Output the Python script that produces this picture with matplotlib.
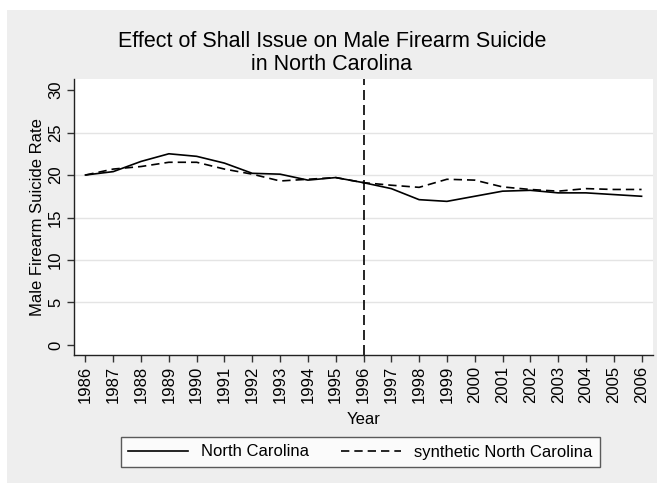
import matplotlib.pyplot as plt
from matplotlib.patches import Rectangle

plt.rcParams['font.family'] = ['Liberation Sans', 'DejaVu Sans']

years = list(range(1986, 2007))
north_carolina = [20.0, 20.4, 21.6, 22.5, 22.2, 21.4, 20.2, 20.1, 19.4, 19.7, 19.1,
                  18.4, 17.1, 16.9, 17.5, 18.1, 18.2, 17.9, 17.9, 17.7, 17.5]
synthetic_nc = [20.0, 20.7, 21.0, 21.5, 21.5, 20.7, 20.1, 19.3, 19.5, 19.7, 19.1,
                18.8, 18.55, 19.5, 19.4, 18.6, 18.3, 18.1, 18.4, 18.3, 18.3]
y_ticks = [0, 5, 10, 15, 20, 25, 30]
treatment_year = 1996

fig = plt.figure(figsize=(6.57, 4.83), dpi=100)
fig.patch.set_facecolor('white')
# grey graph region, leaving a thin white strip top and left
fig.patches.append(Rectangle((7 / 657, 0), 1, 1 - 10 / 483, transform=fig.transFigure,
                             facecolor='#eeeeee', edgecolor='none', zorder=-10))

ax = fig.add_axes([74.3 / 657, 1 - 355 / 483, (652.7 - 74.3) / 657, (355 - 79) / 483])
ax.set_facecolor('white')

ax.plot(years, north_carolina, color='black', lw=1.2, label='North Carolina')
ax.plot(years, synthetic_nc, color='black', lw=1.2, ls=(0, (5, 3)),
        label='synthetic North Carolina')
ax.axvline(treatment_year, color='black', lw=1.2, ls=(0, (6, 3)))

ax.set_xlim(1985.6, 2006.4)
ax.set_ylim(-1.18, 31.3)
ax.set_xticks(years)
ax.set_xticklabels([str(y) for y in years], rotation=90)
ax.set_yticks(y_ticks)
ax.set_yticklabels([str(v) for v in y_ticks], rotation=90, va='center')
for v in y_ticks[1:-1]:
    ax.axhline(v, color='#e4e4e4', lw=1.0, zorder=0)

for side in ['top', 'right']:
    ax.spines[side].set_visible(False)
for side in ['left', 'bottom']:
    ax.spines[side].set_color('#222222')
    ax.spines[side].set_linewidth(1.0)
ax.tick_params(axis='both', direction='out', length=5, width=1, color='#333333',
               labelsize=12, pad=3)

ax.set_xlabel('Year', fontsize=12, labelpad=6)
ax.set_ylabel('Male Firearm Suicide Rate', fontsize=12, labelpad=2.5)

fig.text(0.505, 1 - 31 / 483, 'Effect of Shall Issue on Male Firearm Suicide\nin North Carolina',
         ha='center', va='top', fontsize=15.5, linespacing=1.12)

leg = ax.legend(loc='center', bbox_to_anchor=(360.5 / 657, 1 - 452 / 483),
                bbox_transform=fig.transFigure, ncol=2, fontsize=12, frameon=True,
                fancybox=False, handlelength=3.6, columnspacing=1.9, borderpad=0.45,
                handletextpad=0.8, borderaxespad=0)
leg.get_frame().set_edgecolor('#333333')
leg.get_frame().set_linewidth(1.0)

fig.savefig('out.png', dpi=100)
